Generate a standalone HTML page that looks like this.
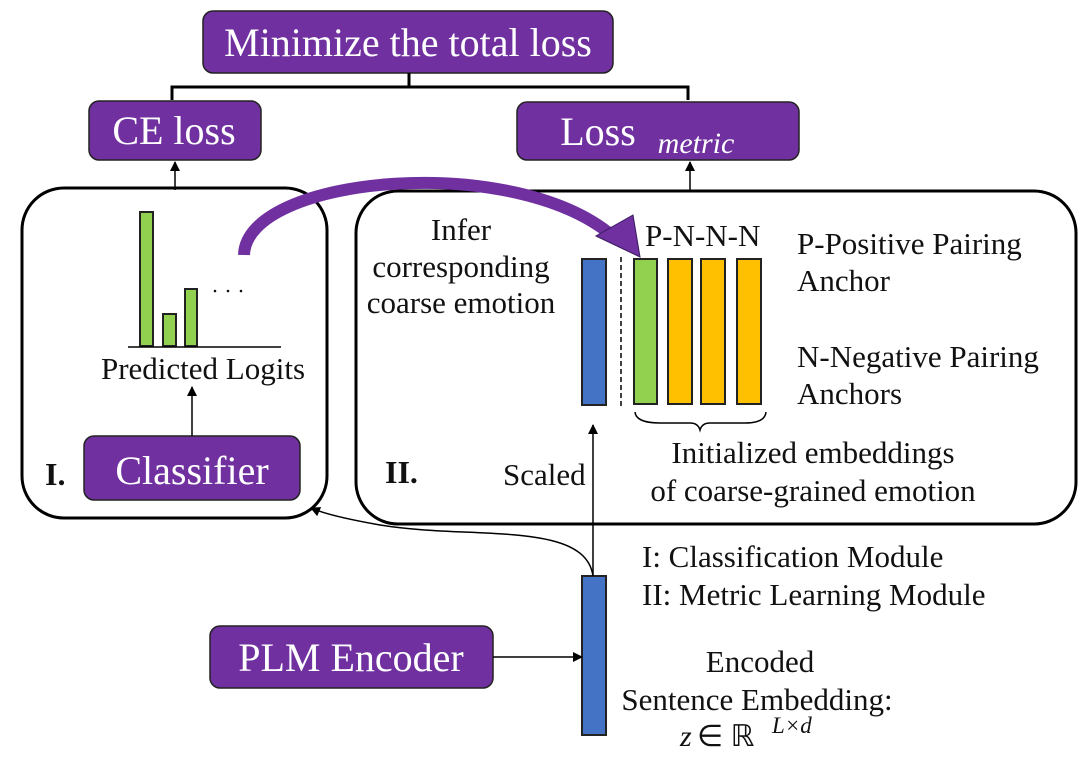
<!DOCTYPE html>
<html><head><style>
body{margin:0;background:#fff;}
text{font-family:"Liberation Serif","Times New Roman",Times,serif !important;}
</style></head><body>
<svg width="1080" height="760" viewBox="0 0 1080 760" xmlns="http://www.w3.org/2000/svg" font-family="Liberation Serif, Times New Roman, serif">
<defs>
<marker id="ah" markerWidth="10" markerHeight="10" refX="9" refY="5" orient="auto" markerUnits="userSpaceOnUse"><path d="M0,0 L10,5 L0,10 z" fill="#000"/></marker>
</defs>
<g fill="#7030a0" stroke="#222" stroke-width="1.5">
<rect x="203" y="11" width="410" height="62" rx="10"/>
<rect x="89" y="101" width="172" height="59" rx="10"/>
<rect x="517" y="102" width="282" height="58" rx="10"/>
<rect x="84" y="436" width="216" height="64" rx="10"/>
<rect x="210" y="626" width="283" height="62" rx="10"/>
</g>
<g font-size="40" text-anchor="middle" fill="#fff">
<text x="408" y="56">Minimize the total loss</text>
<text x="174" y="144">CE loss</text>
<text x="598" y="145">Loss</text>
<text x="696" y="153" font-size="30" font-style="italic">metric</text>
<text x="192" y="484" font-size="40">Classifier</text>
<text x="351" y="671" font-size="40">PLM Encoder</text>
</g>
<path d="M409,73 V87 M172,100 V87 H688 V100" fill="none" stroke="#000" stroke-width="3"/>
<line x1="175" y1="190" x2="175" y2="162" stroke="#000" stroke-width="1.5" marker-end="url(#ah)"/>
<line x1="690" y1="192" x2="690" y2="162" stroke="#000" stroke-width="1.5" marker-end="url(#ah)"/>
<rect x="22" y="188" width="305" height="330" rx="42" fill="none" stroke="#000" stroke-width="3"/>
<rect x="356" y="191" width="720" height="333" rx="42" fill="none" stroke="#000" stroke-width="3"/>
<g fill="#92d050" stroke="#222" stroke-width="2">
<rect x="140" y="212" width="13" height="134"/>
<rect x="163" y="314" width="13" height="32"/>
<rect x="185" y="289" width="12" height="57"/>
</g>
<line x1="128" y1="347" x2="281" y2="347" stroke="#000" stroke-width="1.5"/>
<g fill="#111">
<circle cx="215" cy="291" r="1.3"/><circle cx="228" cy="291" r="1.3"/><circle cx="241" cy="291" r="1.3"/>
<text x="203" y="379" font-size="31" text-anchor="middle">Predicted Logits</text>
<line x1="192" y1="436" x2="192" y2="387" stroke="#000" stroke-width="1.5" marker-end="url(#ah)"/>
<text x="45" y="485" font-size="32" font-weight="bold">I.</text>
<path d="M244,255 C246,175 520,150 617,240" fill="none" stroke="#7030a0" stroke-width="12"/>
<path d="M596,236 L640,257 L633,215 z" fill="#7030a0" stroke="#3a1a60" stroke-width="1"/>
<g font-size="31" text-anchor="middle">
<text x="461" y="240">Infer</text>
<text x="461" y="277">corresponding</text>
<text x="461" y="313">coarse emotion</text>
</g>
<rect x="582" y="259" width="24" height="146" fill="#4472c4" stroke="#222" stroke-width="2"/>
<line x1="621" y1="257" x2="621" y2="407" stroke="#000" stroke-width="1.5" stroke-dasharray="5,3"/>
<rect x="634" y="259" width="23" height="145" fill="#92d050" stroke="#222" stroke-width="2"/>
<g fill="#ffc000" stroke="#222" stroke-width="2">
<rect x="668" y="259" width="24" height="145"/>
<rect x="701" y="259" width="24" height="145"/>
<rect x="737" y="259" width="24" height="145"/>
</g>
<text x="645" y="246" font-size="31">P-N-N-N</text>
<path d="M635,412 Q636,423 660,423 L690,423 Q698,423 700,430 Q702,423 710,423 L745,423 Q765,423 766,412" fill="none" stroke="#000" stroke-width="1.5"/>
<g font-size="31">
<text x="797" y="254">P-Positive Pairing</text>
<text x="797" y="291">Anchor</text>
<text x="797" y="367">N-Negative Pairing</text>
<text x="797" y="404">Anchors</text>
</g>
<g font-size="31" text-anchor="middle">
<text x="813" y="463">Initialized embeddings</text>
<text x="813" y="501">of coarse-grained emotion</text>
</g>
<text x="385" y="483" font-size="32" font-weight="bold">II.</text>
<text x="503" y="485" font-size="31">Scaled</text>
<line x1="593" y1="576" x2="593" y2="425" stroke="#000" stroke-width="1.5" marker-end="url(#ah)"/>
<rect x="582" y="576" width="24" height="159" fill="#4472c4" stroke="#222" stroke-width="2"/>
<line x1="493" y1="657" x2="582" y2="657" stroke="#000" stroke-width="1.5" marker-end="url(#ah)"/>
<path d="M593,576 C585,520 470,540 380,525 C340,518 320,512 311,508" fill="none" stroke="#000" stroke-width="1.5" marker-end="url(#ah)"/>
<g font-size="31">
<text x="642" y="567">I: Classification Module</text>
<text x="642" y="605">II: Metric Learning Module</text>
</g>
<g font-size="31" text-anchor="middle">
<text x="760" y="672">Encoded</text>
<text x="757" y="710">Sentence Embedding:</text>
</g>
<text x="680" y="746" font-size="30" font-style="italic">z</text>
<text x="697" y="746" font-size="30">∈  ℝ</text>
<text x="772" y="733" font-size="23" font-style="italic">L×d</text>
</g>
</svg>
</body></html>
